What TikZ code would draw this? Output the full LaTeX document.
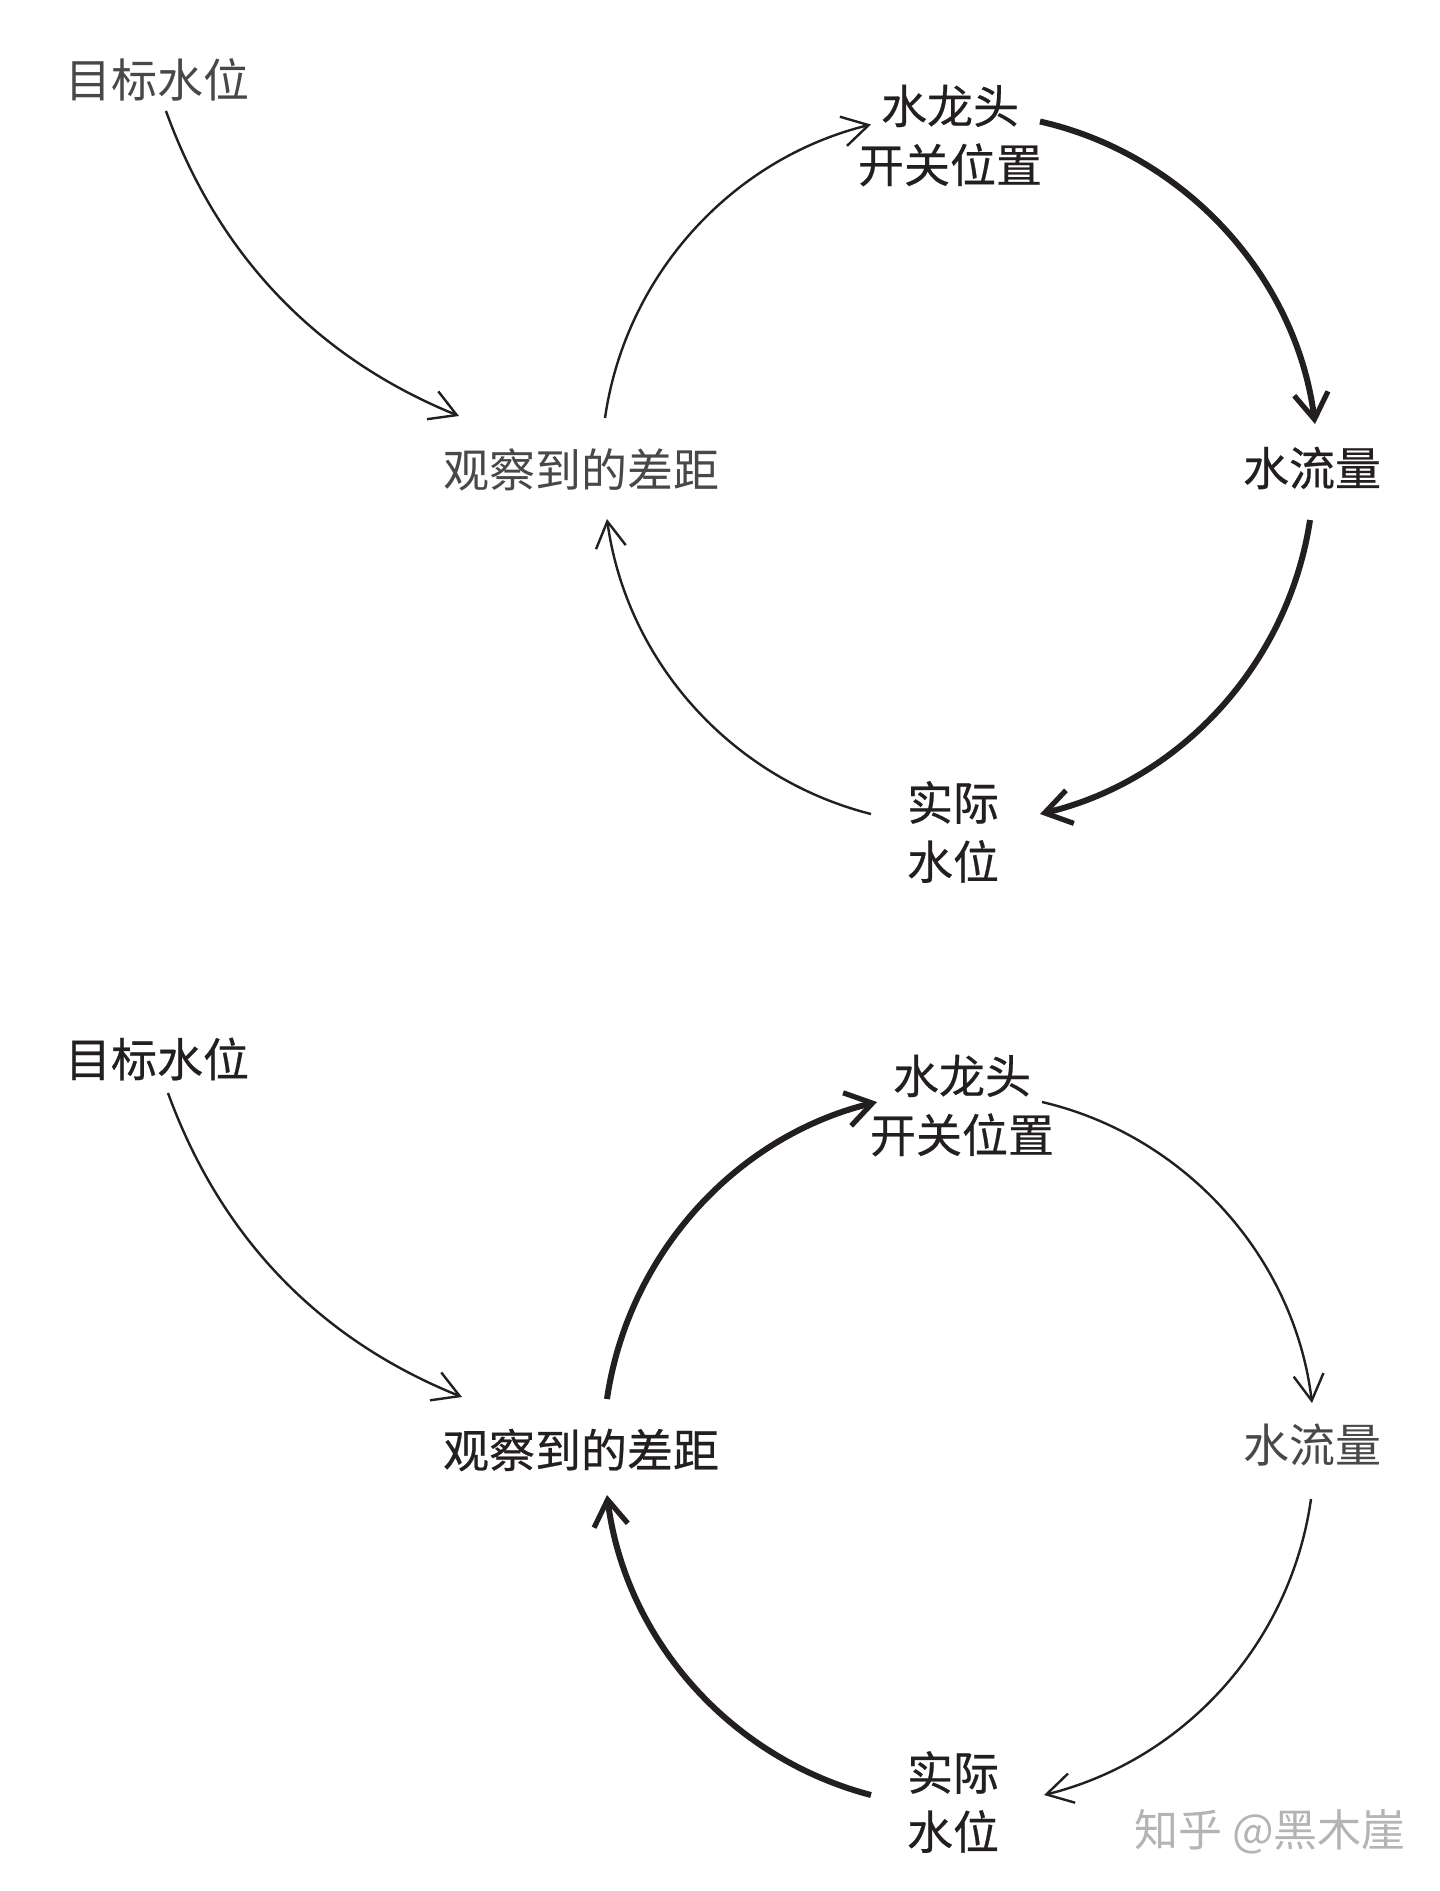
\documentclass[tikz,border=0pt]{standalone}
\usepackage{fontspec}
\usetikzlibrary{arrows.meta}
\newfontfamily\cjkthin{Noto Sans CJK SC}
\newfontfamily\cjkmed[FakeBold=0.5]{Noto Sans CJK SC}
\definecolor{ink}{HTML}{231F20}
\definecolor{inkthin}{HTML}{4A4748}
\definecolor{mark}{HTML}{B4B4B4}
\tikzset{
  x=0.5pt,y=-0.5pt,
  lab/.style={inner sep=0pt,align=center,text=ink},
  lablight/.style={lab,text=inkthin,font=\fontsize{23pt}{29.5pt}\selectfont\cjkthin},
  labbold/.style={lab,font=\fontsize{23pt}{29.5pt}\selectfont\cjkmed},
  wm/.style={inner sep=0pt,text=mark,font=\fontsize{22pt}{26pt}\selectfont\cjkthin},
  thinarr/.style={draw=ink,line width=1.2pt,looseness=0.93,-{Straight Barb[length=13pt,width=15pt,line width=1.2pt,sharp]}},
  thickarr/.style={draw=ink,line width=3pt,looseness=0.93,-{Straight Barb[length=13pt,width=17pt,line width=2.6pt,sharp]}},
}
\begin{document}
\begin{tikzpicture}
\useasboundingbox (0,0) rectangle (1440,1891);
\fill[white] (0,0) rectangle (1440,1891);
% top diagram
\node[lablight] (goalA) at (157,80) {目标水位};
\node[lablight] (gapA) at (581,470) {观察到的差距};
\node[labbold] (tapA) at (950,135.5) {水龙头\\开关位置};
\node[labbold] (flowA) at (1312,468) {水流量};
\node[labbold] (levelA) at (953,832) {实际\\水位};
\draw[thinarr] ([shift={(9,31)}]goalA.center) to[bend right=24] ([shift={(-122,-54)}]gapA.center);
\draw[thinarr] ([shift={(24,-52)}]gapA.center) to[bend left=34] ([shift={(-79,-11)}]tapA.center);
\draw[thickarr] ([shift={(90,-14)}]tapA.center) to[bend left=35] ([shift={(3,-44)}]flowA.center);
\draw[thickarr] ([shift={(-2,52)}]flowA.center) to[bend left=34] ([shift={(87,-18)}]levelA.center);
\draw[thinarr] ([shift={(-82,-18)}]levelA.center) to[bend left=34] ([shift={(26,49)}]gapA.center);
% bottom diagram
\node[labbold] (goalB) at (157,1059) {目标水位};
\node[labbold] (gapB) at (581,1450) {观察到的差距};
\node[labbold] (tapB) at (962,1105.5) {水龙头\\开关位置};
\node[lablight] (flowB) at (1312,1445) {水流量};
\node[labbold] (levelB) at (953,1802) {实际\\水位};
\draw[thinarr] ([shift={(11,34)}]goalB.center) to[bend right=24] ([shift={(-119,-53)}]gapB.center);
\draw[thickarr] ([shift={(26,-51)}]gapB.center) to[bend left=34] ([shift={(-85,-3.5)}]tapB.center);
\draw[thinarr] ([shift={(80,-3.5)}]tapB.center) to[bend left=35] ([shift={(0,-42)}]flowB.center);
\draw[thinarr] ([shift={(-1,54)}]flowB.center) to[bend left=34] ([shift={(91,-7)}]levelB.center);
\draw[thickarr] ([shift={(-82,-7)}]levelB.center) to[bend left=34] ([shift={(26,45)}]gapB.center);
% watermark
\node[wm] (zhihu) at (1270,1832) {知乎 @黑木崖};
\end{tikzpicture}
\end{document}
